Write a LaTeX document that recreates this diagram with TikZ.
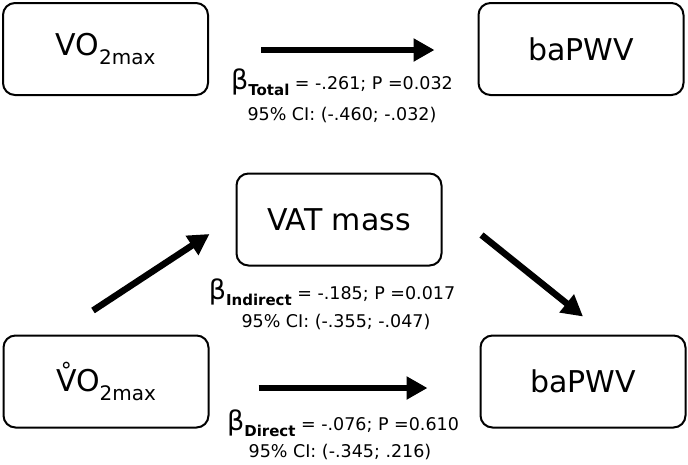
\documentclass[tikz,border=0pt]{standalone}
\usepackage{fontspec}
\setmainfont{DejaVu Sans}
\usetikzlibrary{arrows.meta,calc}
\newcommand{\bsub}[1]{{\fontsize{27}{27}\selectfont β}\raisebox{-6pt}{\fontsize{15}{15}\selectfont\bfseries #1}}
\newcommand{\vosub}{\raisebox{-9pt}{\fontsize{20}{20}\selectfont 2max}}
\newcommand{\Vring}{\leavevmode\setbox0\hbox{V}\rlap{\hbox to\wd0{\hss\raisebox{13pt}{\fontsize{22}{22}\selectfont °}\hss}}V}
\begin{document}
\begin{tikzpicture}[x=1pt,y=-1pt,
  box/.style={draw, line width=2pt, rounded corners=12pt, minimum width=205pt, minimum height=92pt, inner sep=0pt, font=\fontsize{30}{30}\selectfont},
  arr/.style={line width=6.5pt, -{Triangle[length=21pt,width=22pt]}},
  stat/.style={inner sep=0pt, font=\fontsize{17.5}{17.5}\selectfont}]
\useasboundingbox (0,0) rectangle (688,464);
\node[box] (vo1) at (105.5,49) {VO\vosub};
\node[box] (pwv1) at (581,49) {baPWV};
\node[box] (vat) at (339,219.5) {VAT mass};
\node[box] (vo2) at (106,381.5) {\Vring O\vosub};
\node[box] (pwv2) at (583,381.5) {baPWV};
\draw[arr] ($(vo1.east)+(52,1)$) -- ($(pwv1.west)+(-43,1)$);
\draw[arr] ($(vo2.north)+(-13,-24)$) -- ($(vat.west)+(-26,14.5)$);
\draw[arr] ($(vat.east)+(39,15.5)$) -- ($(pwv2.north)+(0,-18)$);
\draw[arr] ($(vo2.east)+(49,6.5)$) -- ($(pwv2.west)+(-52,6.5)$);
\node[stat] (t1) at (342,82) {\bsub{Total} = -.261; P =0.032};
\node[stat] (c1) at (342,115) {95\% CI: (-.460; -.032)};
\node[stat] (t2) at (332,292) {\bsub{Indirect} = -.185; P =0.017};
\node[stat] (c2) at (336,322) {95\% CI: (-.355; -.047)};
\node[stat] (t3) at (343,423) {\bsub{Direct} = -.076; P =0.610};
\node[stat] (c3) at (340,452) {95\% CI: (-.345; .216)};
\end{tikzpicture}
\end{document}
